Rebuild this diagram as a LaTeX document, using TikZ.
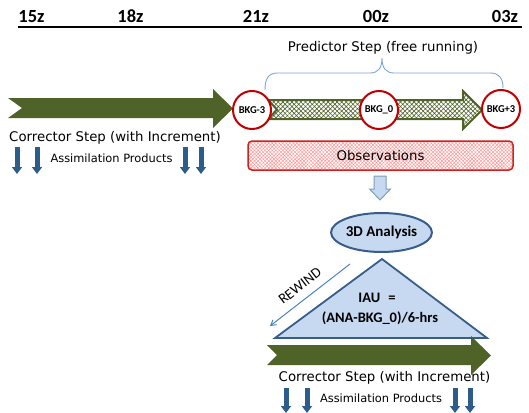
\documentclass[tikz,border=0pt]{standalone}
\usepackage{fontspec}
\setmainfont{Carlito}
\newfontfamily\comicf{DejaVu Sans}
\usetikzlibrary{patterns.meta,shapes.geometric,arrows.meta}
\definecolor{oliveg}{HTML}{4F6228}
\definecolor{circred}{HTML}{C00000}
\definecolor{obsred}{HTML}{CC2222}
\definecolor{lightblue}{HTML}{C6D9F1}
\definecolor{darkblue}{HTML}{385D8A}
\definecolor{prodblue}{HTML}{2E5C8A}
\definecolor{bracec}{HTML}{7EA6D6}
\definecolor{rewindc}{HTML}{4F81BD}
\definecolor{blockborder}{HTML}{7F9DB9}
\begin{document}
\begin{tikzpicture}[x=1pt,y=-1pt,
  tlab/.style={font=\fontsize{18.5}{20}\selectfont\bfseries, inner sep=0pt, anchor=base},
  circ/.style={circle, draw=circred, line width=2pt, fill=white, minimum size=38pt, inner sep=0pt, font=\fontsize{10.5}{12}\selectfont\bfseries},
  comic/.style={font=\fontsize{13.3}{16}\selectfont\comicf, inner sep=0pt},
  comicsmall/.style={font=\fontsize{11.4}{14}\selectfont\comicf, inner sep=0pt},
  greenarrow/.style={fill=oliveg, draw=none},
  prodarrow/.style={draw=prodblue, line width=5pt, -{Triangle[width=10pt,length=7pt]}},
  iaufont/.style={inner sep=0pt, font=\fontsize{14.5}{18}\selectfont\bfseries},
]
\useasboundingbox (0,0) rectangle (529,412);

% timeline
\node[tlab] (t15) at (31.5,23) {15z};
\node[tlab] (t18) at (130.5,23) {18z};
\node[tlab] (t21) at (256,23) {21z};
\node[tlab] (t00) at (376,23) {00z};
\node[tlab] (t03) at (505,23) {03z};
\coordinate (tlA) at (18,27);
\coordinate (tlB) at (522,27);
\draw[line width=1.5pt] (tlA) -- (tlB);

% left green arrow
\fill[greenarrow] (8,98) -- (213,98) -- (213,89) -- (233,108.5) -- (213,128) -- (213,118) -- (8,118) -- (22,108) -- cycle;

% hatched arrow
\path[preaction={fill=white}, pattern={Hatch[angle=45,distance=3.2pt,line width=0.6pt]}, pattern color=oliveg]
  (268,100) -- (463,100) -- (463,91) -- (482,110) -- (463,129) -- (463,119) -- (268,119) -- (277,109.5) -- cycle;
\draw[oliveg, line width=2pt, line join=miter]
  (268,100) -- (463,100) -- (463,91) -- (482,110) -- (463,129) -- (463,119) -- (268,119) -- (277,109.5) -- cycle;

% circles
\node[circ] (bkgm3) at (252,110) {BKG-3};
\node[circ] (bkg0) at (379,110) {BKG\_0};
\node[circ] (bkgp3) at (501,109) {BKG+3};

% brace
\coordinate (bl) at (265,90);
\coordinate (br) at (503,88);
\coordinate (bm) at (382,58);
\draw[bracec, line width=0.9pt] (bl) .. controls (265,79) and (268,73) .. (278,73) -- (370,73)
  .. controls (378,73) and (382,68) .. (bm) .. controls (382,68) and (386,73) .. (394,73) -- (490,73)
  .. controls (499,73) and (503,78) .. (br);
\node[comic] (pred) at (383,48) {Predictor Step (free running)};

% left texts
\node[comic] (corrL) at (115,138) {Corrector Step (with Increment)};
\node[comicsmall] (assimL) at (111.5,158) {Assimilation Products};
\draw[prodarrow] (17,147) -- (17,174);
\draw[prodarrow] (37,147) -- (37,174);
\draw[prodarrow] (185,147) -- (185,174);
\draw[prodarrow] (201,147) -- (201,174);

% observations
\node[draw=obsred, line width=1.5pt, rounded corners=4pt, minimum width=265pt, minimum height=29pt,
  preaction={fill=white}, pattern={Hatch[angle=45,distance=2.5pt,line width=0.5pt]}, pattern color=red!40,
  inner sep=0pt] (obs) at (380.5,155.5) {};
\node[comic] (obstext) at (obs.center) {Observations};

% block down arrow
\draw[fill=lightblue, draw=blockborder, line width=1pt] (374,176) -- (386,176) -- (386,189) -- (390.5,189) -- (380,200) -- (369.5,189) -- (374,189) -- cycle;

% 3D analysis
\node[ellipse, draw=darkblue, line width=2pt, fill=lightblue, minimum width=93pt, minimum height=39pt, inner sep=0pt,
  font=\fontsize{15}{18}\selectfont\bfseries] (ana) at (381.5,232.5) {3D Analysis};

% triangle
\draw[fill=lightblue, draw=darkblue, line width=1.8pt, line join=miter] (382,259) -- (487,338) -- (275,338) -- cycle;
\node[iaufont] (iau1) at (377,298) {IAU\hspace{0.55em}=};
\node[iaufont] (iau2) at (380,318) {(ANA-BKG\_0)/6-hrs};

% rewind
\coordinate (rwA) at (350,264);
\coordinate (rwB) at (270,326);
\draw[rewindc, line width=1pt, -{Straight Barb[length=5pt,width=6pt]}] (rwA) -- (rwB);
\node[rotate=37.8, inner sep=0pt, font=\fontsize{14.5}{16}\selectfont] (rw) at (300,286) {REWIND};

% bottom green arrow
\fill[greenarrow] (267,345) -- (471,345) -- (471,336) -- (491,355.5) -- (471,375) -- (471,365) -- (267,365) -- (277,355) -- cycle;

% bottom texts
\node[comic] (corrB) at (384.5,378) {Corrector Step (with Increment)};
\node[comicsmall] (assimB) at (381,398) {Assimilation Products};
\draw[prodarrow] (286,388) -- (286,413);
\draw[prodarrow] (307,388) -- (307,413);
\draw[prodarrow] (455,388) -- (455,413);
\draw[prodarrow] (470,388) -- (470,413);
\end{tikzpicture}
\end{document}
